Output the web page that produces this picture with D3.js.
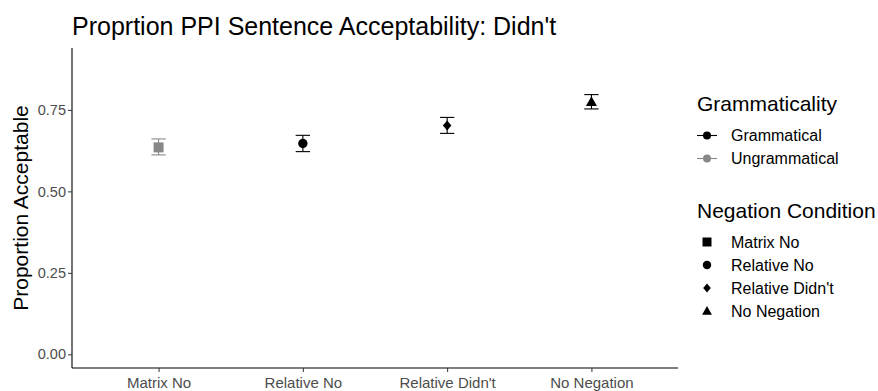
<!DOCTYPE html>
<html>
<head>
<meta charset="utf-8">
<script src="https://cdn.jsdelivr.net/npm/d3@7/dist/d3.min.js"></script>
<style>
  html, body { margin: 0; padding: 0; background: #fff; }
  svg { display: block; font-family: "Liberation Sans", Arial, sans-serif; }
</style>
</head>
<body>
<svg id="chart" width="878" height="391"></svg>
<script>
// Conditions on the x axis
const conditions = ["Matrix No", "Relative No", "Relative Didn't", "No Negation"];
// Mean proportion acceptable per condition
const means = [0.635, 0.647, 0.702, 0.775];
// Error bar bounds
const lowers = [0.612, 0.622, 0.678, 0.753];
const uppers = [0.661, 0.672, 0.727, 0.797];
// Grammaticality of each condition
const grammaticality = ["Ungrammatical", "Grammatical", "Grammatical", "Grammatical"];
// Marker shape of each condition
const shapes = ["square", "circle", "diamond", "triangle"];
// Y axis ticks
const yTicks = [0, 0.25, 0.5, 0.75];

const gramLevels = ["Grammatical", "Ungrammatical"];
const gramColors = ["#000000", "#888888"];

const svg = d3.select("#chart");
const panel = { left: 72, right: 678, top: 48, bottom: 368 };

const x = d3.scalePoint().domain(conditions).range([panel.left, panel.right]).padding(0.6);
const y = d3.scaleLinear().domain([-0.042, 0.94]).range([panel.bottom, panel.top]);
const color = d3.scaleOrdinal().domain(gramLevels).range(gramColors);

// Marker path generators
function shapePath(kind, s) {
  if (kind === "square") { const h = s * 0.5; return `M${-h},${-h}H${h}V${h}H${-h}Z`; }
  if (kind === "circle") { const r = s * 0.47; return `M${r},0A${r},${r},0,1,1,${-r},0A${r},${r},0,1,1,${r},0Z`; }
  if (kind === "diamond") { const h = s * 0.5; return `M0,${-h}L${h * 0.85},0L0,${h}L${-h * 0.85},0Z`; }
  if (kind === "triangle") { const h = s * 0.55; return `M0,${-h}L${h},${h * 0.75}L${-h},${h * 0.75}Z`; }
  return "";
}

// Axes
const yAxis = d3.axisLeft(y).tickValues(yTicks).tickFormat(d3.format(".2f")).tickSize(4).tickPadding(2);
const gy = svg.append("g").attr("transform", `translate(${panel.left},0)`).call(yAxis);
gy.select(".domain").attr("d", `M0,${panel.top}V${panel.bottom}`).attr("stroke", "#000").attr("stroke-width", 1.1);
gy.selectAll(".tick line").attr("stroke", "#333");
gy.selectAll(".tick text").attr("fill", "#4d4d4d").style("font-size", "14.5px");

const xAxis = d3.axisBottom(x).tickSize(4).tickPadding(5);
const gx = svg.append("g").attr("transform", `translate(0,${panel.bottom})`).call(xAxis);
gx.select(".domain").attr("d", `M${panel.left},0H${panel.right}`).attr("stroke", "#000").attr("stroke-width", 1.1);
gx.selectAll(".tick line").attr("stroke", "#333");
gx.selectAll(".tick text").attr("fill", "#4d4d4d").style("font-size", "15px");

// Error bars and points
const rows = conditions.map((c, i) => ({ c, m: means[i], lo: lowers[i], hi: uppers[i], g: grammaticality[i], s: shapes[i] }));
const capW = 7.2;
const marks = svg.append("g");
rows.forEach(d => {
  const cx = x(d.c), col = color(d.g);
  const g = marks.append("g").attr("stroke", col).attr("stroke-width", 1.1);
  g.append("line").attr("x1", cx).attr("x2", cx).attr("y1", y(d.hi)).attr("y2", y(d.lo));
  g.append("line").attr("x1", cx - capW).attr("x2", cx + capW).attr("y1", y(d.hi)).attr("y2", y(d.hi));
  g.append("line").attr("x1", cx - capW).attr("x2", cx + capW).attr("y1", y(d.lo)).attr("y2", y(d.lo));
  marks.append("path").attr("d", shapePath(d.s, 10)).attr("transform", `translate(${cx},${y(d.m)})`).attr("fill", col);
});

// Title
svg.append("text").attr("x", 72).attr("y", 35).style("font-size", "25px").attr("fill", "#000")
  .text("Proprtion PPI Sentence Acceptability: Didn't");

// Y axis title
svg.append("text").attr("transform", `translate(28,${(panel.top + panel.bottom) / 2}) rotate(-90)`)
  .attr("text-anchor", "middle").style("font-size", "21px").attr("fill", "#000").text("Proportion Acceptable");

// Legend: Grammaticality
const lg = svg.append("g");
lg.append("text").attr("x", 697).attr("y", 111).style("font-size", "21px").text("Grammaticality");
gramLevels.forEach((lvl, i) => {
  const cy = 135.5 + i * 23;
  lg.append("line").attr("x1", 697).attr("x2", 717).attr("y1", cy).attr("y2", cy).attr("stroke", color(lvl)).attr("stroke-width", 1.1);
  lg.append("circle").attr("cx", 707).attr("cy", cy).attr("r", 4).attr("fill", color(lvl));
  lg.append("text").attr("x", 731).attr("y", cy + 5.5).style("font-size", "16px").attr("fill", "#000").text(lvl);
});

// Legend: Negation Condition
lg.append("text").attr("x", 697).attr("y", 218).style("font-size", "21px").text("Negation Condition");
conditions.forEach((c, i) => {
  const cy = 242 + i * 23;
  lg.append("path").attr("d", shapePath(shapes[i], 9)).attr("transform", `translate(707,${cy})`).attr("fill", "#000");
  lg.append("text").attr("x", 731).attr("y", cy + 5.5).style("font-size", "16px").attr("fill", "#000").text(c);
});
</script>
</body>
</html>
